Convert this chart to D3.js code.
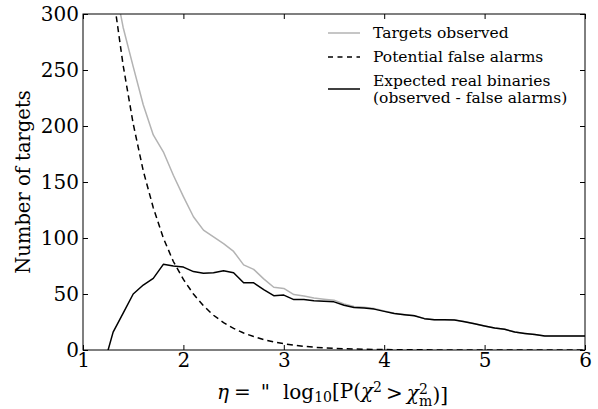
<!DOCTYPE html>
<html>
<head>
<meta charset="utf-8">
<script src="https://cdn.jsdelivr.net/npm/d3@7"></script>
<style>
  html, body { margin: 0; padding: 0; background: #fff; }
  svg { display: block; }
</style>
</head>
<body>
<svg id="chart" width="598" height="409"></svg>
<script>
// ---- data ----
const eta = [1.0,1.1,1.2,1.3,1.4,1.5,1.6,1.7,1.8,1.9,
             2.0,2.1,2.2,2.3,2.4,2.5,2.6,2.7,2.8,2.9,
             3.0,3.1,3.2,3.3,3.4,3.5,3.6,3.7,3.8,3.9,
             4.0,4.1,4.2,4.3,4.4,4.5,4.6,4.7,4.8,4.9,
             5.0,5.1,5.2,5.3,5.4,5.5,5.6,5.7,5.8,5.9,6.0];
const observed = [560,480,390,334,288,253,219,192,177,156,
                  137,119,107,101,95,88,76,72,63.5,56,
                  55,49.5,48.3,46.5,45.4,44.5,41.1,38.9,38.2,37,
                  34.9,32.8,31.7,30.7,28.1,27.1,27.1,26.9,25.4,23.4,
                  21.5,19.6,18.5,16,14.8,13.8,12.5,12.5,12.5,12.5,12.5];
const falseAlarms = [600,490,395,318,254,202,160,127,100,79,
                     63,50,39.5,31,24.5,19.3,15.2,12,9.3,7.2,
                     5.6,4.3,3.3,2.5,1.9,1.45,1.1,0.85,0.65,0.5,
                     0.38,0.29,0.22,0.17,0.13,0.1,0.08,0.06,0.05,0.04,
                     0.03,0.02,0.02,0.01,0.01,0.01,0,0,0,0,0];
const realBinaries = [-50,-32,-16,16,33,50,58,64,76.5,75,
                      74,70,68.5,69,70.8,69,60,60,54,48.5,
                      49,45,45,44,43.5,43,40,38,37.5,36.5,
                      34.5,32.5,31.5,30.5,28,27,27,26.8,25.3,23.4,
                      21.5,19.6,18.5,16,14.8,13.8,12.5,12.5,12.5,12.5,12.5];
const xTicks = [1,2,3,4,5,6];
const yTicks = [0,50,100,150,200,250,300];
const legendLabels = ["Targets observed","Potential false alarms","Expected real binaries","(observed - false alarms)"];

// ---- layout ----
const FONT = "'DejaVu Serif', serif";
const svg = d3.select("#chart");
const L = 83, R = 585, T = 14, B = 350;
const x = d3.scaleLinear().domain([1,6]).range([L,R]);
const y = d3.scaleLinear().domain([0,300]).range([B,T]);

svg.append("defs").append("clipPath").attr("id","plotclip")
  .append("rect").attr("x",L).attr("y",T).attr("width",R-L).attr("height",B-T);

const plot = svg.append("g").attr("clip-path","url(#plotclip)");
const line = arr => d3.line().x((d,i)=>x(eta[i])).y(d=>y(d))(arr);

plot.append("path").attr("d", line(observed))
  .attr("fill","none").attr("stroke","#b3b3b3").attr("stroke-width",1.5).attr("stroke-linejoin","round");
plot.append("path").attr("d", line(falseAlarms))
  .attr("fill","none").attr("stroke","#000").attr("stroke-width",1.5).attr("stroke-dasharray","6,4");
plot.append("path").attr("d", line(realBinaries))
  .attr("fill","none").attr("stroke","#000").attr("stroke-width",1.5).attr("stroke-linejoin","round");

// ---- axes (ticks inward on all sides) ----
const tl = 5;
const fmt = d3.format("d");
svg.append("g").attr("transform",`translate(0,${B})`)
  .call(d3.axisBottom(x).tickValues(xTicks).tickSizeInner(-tl).tickSizeOuter(0).tickPadding(2).tickFormat(fmt))
  .call(g=>{g.select(".domain").remove(); g.selectAll("text").style("font-size","20px").style("font-family",FONT).attr("dy","0.74em");});
svg.append("g").attr("transform",`translate(0,${T})`)
  .call(d3.axisTop(x).tickValues(xTicks).tickSizeInner(-tl).tickSizeOuter(0).tickFormat(""))
  .call(g=>g.select(".domain").remove());
svg.append("g").attr("transform",`translate(${L},0)`)
  .call(d3.axisLeft(y).tickValues(yTicks).tickSizeInner(-tl).tickSizeOuter(0).tickPadding(4).tickFormat(fmt))
  .call(g=>{g.select(".domain").remove(); g.selectAll("text").style("font-size","20px").style("font-family",FONT).attr("dy","0.3em");});
svg.append("g").attr("transform",`translate(${R},0)`)
  .call(d3.axisRight(y).tickValues(yTicks).tickSizeInner(-tl).tickSizeOuter(0).tickFormat(""))
  .call(g=>g.select(".domain").remove());
svg.selectAll(".tick line").attr("stroke","#000");

svg.append("rect").attr("x",L).attr("y",T).attr("width",R-L).attr("height",B-T)
  .attr("fill","none").attr("stroke","#000").attr("stroke-width",1);

// ---- axis labels ----
svg.append("text").attr("transform",`translate(30,${(T+B)/2}) rotate(-90)`)
  .attr("text-anchor","middle").style("font-family",FONT).style("font-size","19.5px").text("Number of targets");

// x label, mathtext-like spacing (sizes in em so it can be fitted)
const xl = svg.append("text").attr("x",217).attr("y",399).attr("text-anchor","start")
  .style("font-family",FONT).style("font-size","19px");
const sm = "0.7em";
xl.append("tspan").attr("font-style","italic").text("η");
xl.append("tspan").attr("dx","0.25em").text("=");
xl.append("tspan").attr("dx","0.5em").text("\"");
xl.append("tspan").attr("dx","0.65em").text("log");
xl.append("tspan").style("font-size",sm).attr("dy","0.22em").text("10");
xl.append("tspan").attr("dy","-0.22em").text("[P(");
xl.append("tspan").attr("font-style","italic").text("χ");
xl.append("tspan").style("font-size",sm).attr("dy","-0.42em").text("2");
xl.append("tspan").attr("dy","0.42em").attr("dx","0.2em").text(">");
xl.append("tspan").attr("font-style","italic").attr("dx","0.2em").text("χ");
xl.append("tspan").style("font-size",sm).attr("dy","-0.42em").text("2");
xl.append("tspan").style("font-size",sm).attr("dx","-0.62em").attr("dy","0.86em").text("m");
xl.append("tspan").attr("dy","-0.22em").text(")]");
// fit to the reference's label span (217 → 448 px)
const w0 = xl.node().getBBox().width;
xl.style("font-size", (19 * 231 / w0).toFixed(2) + "px");

// ---- legend ----
const lg = svg.append("g");
const lx1 = 328, lx2 = 360, tx = 373;
lg.append("line").attr("x1",lx1).attr("x2",lx2).attr("y1",33).attr("y2",33).attr("stroke","#b3b3b3").attr("stroke-width",1.5);
lg.append("line").attr("x1",lx1).attr("x2",lx2).attr("y1",57).attr("y2",57).attr("stroke","#000").attr("stroke-width",1.5).attr("stroke-dasharray","5,4.5");
lg.append("line").attr("x1",lx1).attr("x2",lx2).attr("y1",89).attr("y2",89).attr("stroke","#000").attr("stroke-width",1.5);
const ly = [33,57,80.5,97.5];
legendLabels.forEach((t,i)=>{
  lg.append("text").attr("x",tx).attr("y",ly[i]).attr("dy","0.33em")
    .style("font-family",FONT).style("font-size","15.5px").text(t);
});
</script>
</body>
</html>
